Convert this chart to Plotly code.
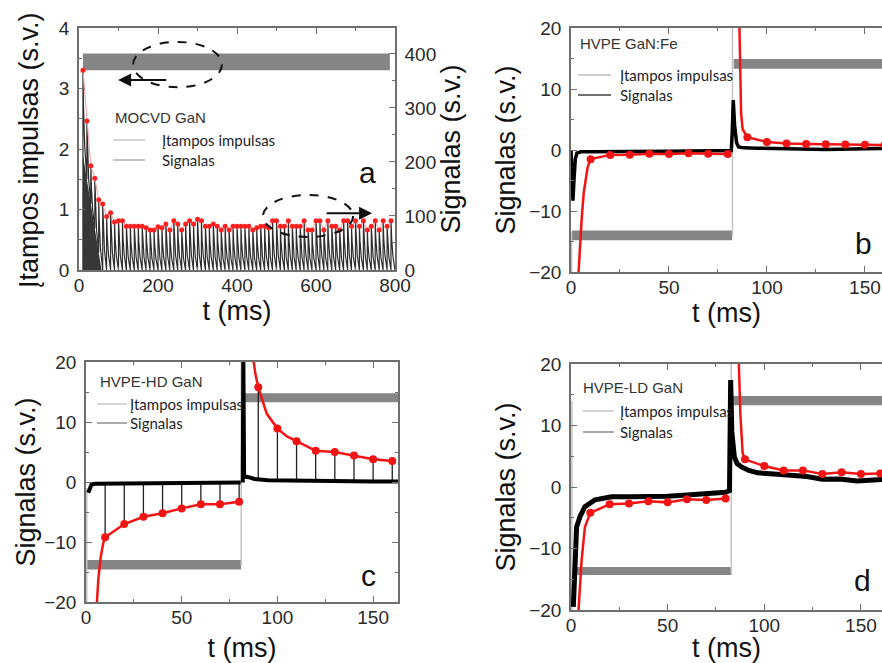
import plotly.graph_objects as go

W, H = 882, 663
FONT = "Liberation Sans, Arial, sans-serif"
LFONT = "Lato, Open Sans, sans-serif"

# ---------------- data: panel a (MOCVD GaN) ----------------
pulseA_t = [10, 787]
pulseA_lo = 3.30
pulseA_hi = 3.58
peaksA_t = list(range(10, 800, 10))
peaksA_v = [370, 276, 193, 170, 130, 122, 99, 106, 89, 91, 91, 81, 81, 81, 81, 81,
            78, 74, 74, 80, 78, 85, 74, 91, 85, 74, 85, 91, 85, 94, 91, 81, 81, 85,
            81, 74, 81, 74, 81, 81, 81, 81, 81, 74, 78, 81, 81, 78, 91, 91, 81, 81,
            91, 81, 81, 81, 91, 74, 74, 91, 91, 74, 91, 81, 81, 74, 91, 91, 81, 91,
            81, 91, 74, 81, 91, 74, 91, 81, 91]
baseA_early = [0, 168, 122, 77, 32]
darkA_t = [10, 10, 57]
darkA_v = [0, 213, 0]
decay_dt = [1.5, 4.5, 9.8]
decay_frac = [0.65, 0.3, 0.0]

# ---------------- data: panel b (HVPE GaN:Fe) ----------------
blackB_t = [0, 0.5, 1.0, 1.5, 2.2, 3, 5, 10, 20, 30, 40, 50, 60, 70, 81.8, 82.3, 82.8,
            83.5, 84.5, 85.5, 88, 95, 110, 130, 150, 165]
blackB_v = [0, -3, -8.3, -5, -1.5, -0.5, -0.3, -0.3, -0.3, -0.25, -0.2, -0.2, -0.15,
            -0.1, -0.1, 3, 8.2, 4, 1.2, 0.5, 0.35, 0.3, 0.2, 0.1, 0.2, 0.3]
dots_t = [10, 20, 30, 40, 50, 60, 70, 80, 90, 100, 110, 120, 130, 140, 150, 160]
dotsB_v = [-1.5, -0.8, -0.77, -0.6, -0.66, -0.55, -0.6, -0.66,
           2.1, 1.3, 1.05, 1.0, 0.95, 0.9, 0.85, 0.8]
steepB1_t = [3.7, 4.5, 5.5, 6.5, 7.5, 8.5]
steepB1_v = [-21, -16, -11, -7, -4.5, -2.8]
steepB2_t = [85.9, 86.3, 86.8, 87.6]
steepB2_v = [21, 12, 6, 3.4]
bandsB = [(0.5, 82.2, -14.8, -13.2), (83.0, 165, 13.3, 14.9)]
edgesB = [(0.3, -21, -13.5), (82.4, -14, 21)]

# ---------------- data: panel c (HVPE-HD GaN) ----------------
blackC1_t = [1.2, 2.0, 2.9, 5, 20, 40, 60, 80.8]
blackC1_v = [-1.8, -1.0, -0.4, -0.3, -0.25, -0.2, -0.15, -0.1]
blackC2_t = [81.9, 82.2, 82.6, 83, 85, 88, 95, 110, 130, 150, 165]
blackC2_v = [-0.1, 21, 1.2, 0.9, 0.8, 0.5, 0.3, 0.2, 0.2, 0.1, 0.1]
dotsC_v = [-9.2, -7.0, -5.8, -5.2, -4.4, -3.7, -3.7, -3.3,
           15.8, 8.9, 6.8, 5.2, 5.0, 4.4, 3.8, 3.5]
spikeC_base = [-0.3, -0.3, -0.3, -0.3, -0.3, -0.3, -0.3, -0.3,
               0.4, 0.3, 0.3, 0.3, 0.3, 0.3, 0.3, 0.3]
steepC1_t = [5.6, 6.5, 7.7, 9.0]
steepC1_v = [-20.5, -16, -12.5, -10.2]
steepC2_t = [87.4, 88.5, 94.4, 105]
steepC2_v = [20.5, 18, 11.4, 7.6]
bandsC = [(0.5, 81.0, -14.6, -13.0), (82.3, 165, 13.3, 14.8)]
edgesC = [(0.4, -21, -1), (81.1, -14, 21)]

# ---------------- data: panel d (HVPE-LD GaN) ----------------
blackD_t = [1.2, 2.1, 2.9, 4.7, 7.2, 12.4, 21, 30, 40, 50, 60, 70, 80, 82, 82.6, 83.2,
            84.5, 86, 88, 92, 96.6, 105, 113, 122, 130, 139, 148, 155, 165]
blackD_v = [-19.5, -11.3, -6.5, -4.8, -3.2, -2.1, -1.6, -1.6, -1.6, -1.5, -1.3, -1.15,
            -0.87, -0.6, 17.4, 9, 4.9, 3.8, 3.3, 2.7, 2.3, 2.1, 1.9, 1.7, 1.25, 1.3,
            0.98, 1.1, 1.3]
dotsD_v = [-4.2, -2.8, -2.7, -2.3, -2.5, -2.0, -2.1, -1.85,
           4.5, 3.4, 2.7, 2.7, 2.1, 2.4, 2.1, 2.2]
steepD1_t = [3.8, 5.5, 7.2]
steepD1_v = [-20.5, -11.9, -6.5]
steepD2_t = [86.8, 87.6, 88.8]
steepD2_v = [20.5, 12, 5.5]
bandsD = [(0.5, 83.0, -14.3, -13.0), (83.5, 165, 13.3, 14.8)]
edgesD = [(0.5, -21, 14), (82.9, -14, 21)]

# ---------------- texts ----------------
titles = ["MOCVD GaN", "HVPE GaN:Fe", "HVPE-HD GaN", "HVPE-LD GaN"]
letters = ["a", "b", "c", "d"]
leg_names = ["Įtampos impulsas", "Signalas"]
ytitle_a = "Įtampos impulsas (s.v.)"
ytitle = "Signalas (s.v.)"
xtitle = "t (ms)"

RED = "#f01414"
BAND = "#858585"
EDGE = "#c4c4c4"

fig = go.Figure()

# panel a traces
fig.add_trace(go.Scatter(x=[pulseA_t[0], pulseA_t[1], pulseA_t[1], pulseA_t[0]],
                         y=[pulseA_lo, pulseA_lo, pulseA_hi, pulseA_hi], fill="toself",
                         fillcolor=BAND, line=dict(width=0), mode="lines",
                         xaxis="x", yaxis="y", hoverinfo="skip"))
fig.add_trace(go.Scatter(x=darkA_t, y=darkA_v, fill="toself", fillcolor="rgba(20,20,20,0.85)",
                         line=dict(width=0), mode="lines", xaxis="x", yaxis="y2"))
baseA = baseA_early + [0] * (len(peaksA_t) - len(baseA_early) + 1)
sx, sy = [], []
for k, (t, p) in enumerate(zip(peaksA_t, peaksA_v)):
    b0, b1 = baseA[k], baseA[k + 1]
    sx += [t, t]
    sy += [b0, p]
    for dt, f in zip(decay_dt, decay_frac):
        sx.append(t + dt)
        sy.append(b1 + (p - b1) * f)
fig.add_trace(go.Scatter(x=sx, y=sy, mode="lines", line=dict(color="#2e2e2e", width=1.2),
                         xaxis="x", yaxis="y2"))
fig.add_trace(go.Scatter(x=peaksA_t, y=peaksA_v, mode="lines+markers",
                         line=dict(color="#f5a0a0", width=1),
                         marker=dict(color="#ff2020", size=5),
                         xaxis="x", yaxis="y2"))


def add_panel(xa, ya, bands, edges, red1, red2, dots_v, black_sets, spikes=None, bw=3):
    for (t0, t1, lo, hi) in bands:
        fig.add_trace(go.Scatter(x=[t0, t1, t1, t0], y=[lo, lo, hi, hi], fill="toself",
                                 fillcolor=BAND, line=dict(width=0), mode="lines",
                                 xaxis=xa, yaxis=ya))
    ex, ey = [], []
    for (t, y0, y1) in edges:
        ex += [t, t, None]
        ey += [y0, y1, None]
    fig.add_trace(go.Scatter(x=ex, y=ey, mode="lines", line=dict(color=EDGE, width=1.5),
                             xaxis=xa, yaxis=ya))
    if spikes is not None:
        kx, ky = [], []
        for t, b, v in zip(dots_t, spikes, dots_v):
            kx += [t, t, None]
            ky += [b, v, None]
        fig.add_trace(go.Scatter(x=kx, y=ky, mode="lines", line=dict(color="#202020", width=1.3),
                                 xaxis=xa, yaxis=ya))
    for (bt, bv) in black_sets:
        fig.add_trace(go.Scatter(x=bt, y=bv, mode="lines", line=dict(color="#000000", width=bw),
                                 xaxis=xa, yaxis=ya))
    n = 8
    seg1 = sorted(zip(red1[0] + dots_t[:n], red1[1] + dots_v[:n]))
    seg2 = sorted(zip(red2[0] + dots_t[n:], red2[1] + dots_v[n:]))
    rx = [p[0] for p in seg1] + [None] + [p[0] for p in seg2]
    ry = [p[1] for p in seg1] + [None] + [p[1] for p in seg2]
    fig.add_trace(go.Scatter(x=rx, y=ry, mode="lines", line=dict(color=RED, width=2.5),
                             xaxis=xa, yaxis=ya))
    fig.add_trace(go.Scatter(x=dots_t, y=dots_v, mode="markers",
                             marker=dict(color=RED, size=8), xaxis=xa, yaxis=ya))


add_panel("x2", "y3", bandsB, edgesB, (steepB1_t, steepB1_v), (steepB2_t, steepB2_v),
          dotsB_v, [(blackB_t, blackB_v)], bw=3.5)
add_panel("x3", "y4", bandsC, edgesC, (steepC1_t, steepC1_v), (steepC2_t, steepC2_v),
          dotsC_v, [(blackC1_t, blackC1_v), (blackC2_t, blackC2_v)], spikes=spikeC_base, bw=4)
add_panel("x4", "y5", bandsD, edgesD, (steepD1_t, steepD1_v), (steepD2_t, steepD2_v),
          dotsD_v, [(blackD_t, blackD_v)], bw=5)

# ---------------- axes ----------------
AX = "#6e6e6e"
TITLE_FONT = dict(family=FONT, size=27, color="#111111")


def axis(rng, dtick, minor, domain, anchor, mirror=True, title=None, standoff=None, side=None,
         overlaying=None, lstand=4):
    d = dict(range=rng, dtick=dtick, tick0=0, domain=domain, anchor=anchor, automargin=False,
             showline=True, linecolor=AX, linewidth=1.5, mirror="ticks" if mirror else False,
             ticks="inside", ticklen=6, tickwidth=1.2, tickcolor=AX,
             showgrid=False, zeroline=False, ticklabelstandoff=lstand,
             tickfont=dict(family=FONT, size=19, color="#2a2a2a"),
             minor=dict(ticks="inside", ticklen=3, tickcolor=AX, dtick=minor, showgrid=False))
    if title:
        d["title"] = dict(text=title, font=TITLE_FONT, standoff=standoff)
    if side:
        d["side"] = side
    if overlaying:
        d["overlaying"] = overlaying
        d.pop("domain")
    return d


dxA = [79 / W, 395 / W]
dyA = [1 - 270 / H, 1 - 28 / H]
dxB = [571 / W, 1.0]
dyB = [1 - 272 / H, 1 - 28 / H]
dxC = [86 / W, 398 / W]
dyC = [1 - 602 / H, 1 - 362 / H]
dxD = [571 / W, 1.0]
dyD = [1 - 610 / H, 1 - 364 / H]

fig.update_layout(
    width=W, height=H, margin=dict(l=0, r=0, t=0, b=0), autosize=False,
    paper_bgcolor="white", plot_bgcolor="white", showlegend=False,
    xaxis=axis([0, 800], 200, 100, dxA, "y", title=xtitle, standoff=6, lstand=-3),
    yaxis=axis([0, 4], 1, 0.5, dyA, "x", mirror=False),
    yaxis2=axis([0, 448], 100, 50, None, "x", mirror=False, title=ytitle, standoff=6,
                side="right", overlaying="y"),
    xaxis2=axis([0, 158.7], 50, 25, dxB, "y3", title=xtitle, standoff=0, lstand=-3),
    yaxis3=axis([-20, 20], 10, 5, dyB, "x2", mirror=False, title=ytitle, standoff=6),
    xaxis3=axis([0, 163], 50, 25, dxC, "y4", title=xtitle, standoff=13, lstand=-3),
    yaxis4=axis([-20, 20], 10, 5, dyC, "x3", mirror=True, title=ytitle, standoff=1),
    xaxis4=axis([0, 160.9], 50, 25, dxD, "y5", title=xtitle, standoff=5, lstand=-3),
    yaxis5=axis([-20, 20], 10, 5, dyD, "x4", mirror=False, title=ytitle, standoff=6),
)

# ---------------- annotations / decorations ----------------
shapes = []
ann = []
# left axis title of panel a (placed explicitly)
ann.append(dict(x=29 / W, y=1 - 150 / H, xref="paper", yref="paper", text=ytitle_a,
                textangle=-90, showarrow=False, xanchor="center", yanchor="middle",
                font=TITLE_FONT))
# panel a ellipses & arrows
shapes.append(dict(type="circle", xref="x", yref="y", x0=137, x1=362, y0=3.02, y1=3.77,
                   line=dict(color="#111", width=2, dash="dash")))
shapes.append(dict(type="circle", xref="x", yref="y", x0=466, x1=694, y0=0.545, y1=1.24,
                   line=dict(color="#111", width=2, dash="dash")))
ann.append(dict(x=99, y=3.14, ax=225, ay=3.14, xref="x", yref="y", axref="x", ayref="y",
                text="", showarrow=True, arrowhead=2, arrowsize=1.3, arrowwidth=2, arrowcolor="#111"))
ann.append(dict(x=742, y=0.94, ax=623, ay=0.94, xref="x", yref="y", axref="x", ayref="y",
                text="", showarrow=True, arrowhead=2, arrowsize=1.3, arrowwidth=2, arrowcolor="#111"))

# panel titles (left x, center y in px)
title_pos = [(113, 117), (578, 44), (98, 382), (581, 387)]
for txt, (x, y) in zip(titles, title_pos):
    ann.append(dict(x=x / W, y=1 - y / H, xref="paper", yref="paper", text=txt, showarrow=False,
                    xanchor="left", yanchor="middle",
                    font=dict(family=FONT, size=15, color="#333333")))
# panel letters
letter_pos = [(367, 173), (863, 243), (368, 575), (862, 580)]
for txt, (x, y) in zip(letters, letter_pos):
    ann.append(dict(x=x / W, y=1 - y / H, xref="paper", yref="paper", text=txt, showarrow=False,
                    xanchor="center", yanchor="middle",
                    font=dict(family=FONT, size=30, color="#111111")))
# legends: (sample x0, x1, y1, y2, text x, colours)
legends = [
    (113, 145, 140, 160, 160, ("#d0d0d0", "#bdbdbd")),
    (578, 611, 75, 95, 618, ("#cfcfcf", "#707070")),
    (97, 127, 404, 423, 128, ("#d0d0d0", "#a0a0a0")),
    (583, 614, 411, 432, 618, ("#d0d0d0", "#a0a0a0")),
]
for (x0, x1, y1, y2, tx, cols) in legends:
    for yy, name, c in zip((y1, y2), leg_names, cols):
        shapes.append(dict(type="line", xref="paper", yref="paper", x0=x0 / W, x1=x1 / W,
                           y0=1 - yy / H, y1=1 - yy / H, line=dict(color=c, width=1.8)))
        ann.append(dict(x=tx / W, y=1 - yy / H, xref="paper", yref="paper", text=name,
                        showarrow=False, xanchor="left", yanchor="middle",
                        font=dict(family=LFONT, size=15, color="#1e1e2a")))

fig.update_layout(shapes=shapes, annotations=ann)
fig.write_html("out.html")
